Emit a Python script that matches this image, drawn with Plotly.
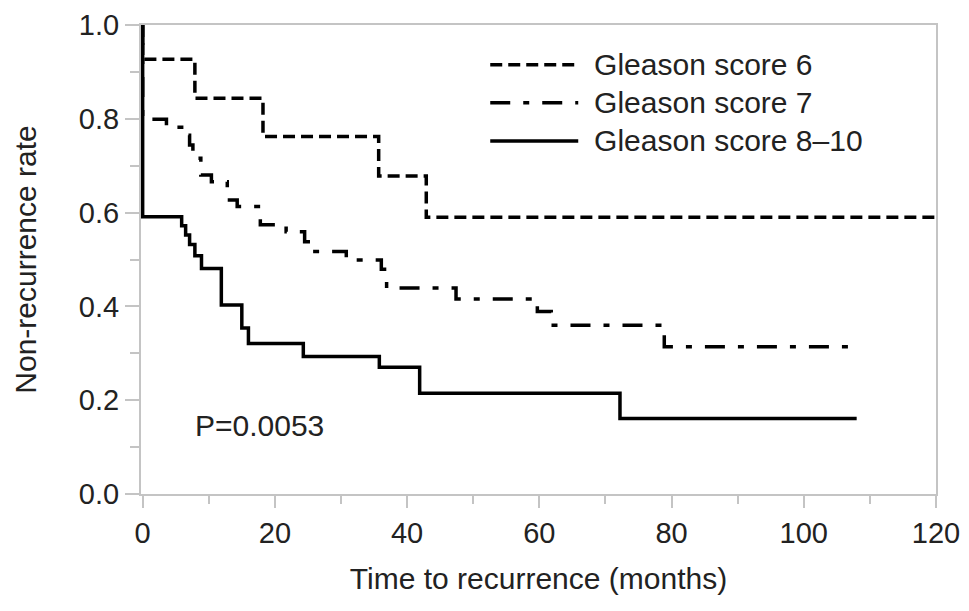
import plotly.graph_objects as go

# ---- data ----
g6_time = [0, 0, 7.9, 18.2, 35.7, 42.9, 120]
g6_rate = [1.0, 0.927, 0.844, 0.762, 0.678, 0.590, 0.590]

g7_time = [0, 0, 3.6, 5.9, 7.1, 7.6, 8.8, 10.4, 12.8, 14.3, 17.8, 21.7, 24.5,
           25.5, 30.8, 36.1, 36.9, 47.4, 59.7, 61.8, 78.9, 108]
g7_rate = [1.0, 0.799, 0.782, 0.765, 0.744, 0.716, 0.680, 0.666, 0.627, 0.613,
           0.574, 0.559, 0.538, 0.517, 0.499, 0.479, 0.439, 0.416, 0.389, 0.360,
           0.314, 0.314]

g810_time = [0, 0, 5.9, 6.5, 7.1, 7.9, 8.9, 11.9, 15.0, 16.0, 24.3, 35.8, 41.9, 72.2, 108]
g810_rate = [1.0, 0.591, 0.572, 0.552, 0.532, 0.508, 0.481, 0.403, 0.354, 0.321,
             0.293, 0.270, 0.215, 0.161, 0.161]

series_names = ["Gleason score 6", "Gleason score 7", "Gleason score 8\u201310"]
x_ticks = [0, 20, 40, 60, 80, 100, 120]
y_ticks = [0.0, 0.2, 0.4, 0.6, 0.8, 1.0]
p_text = "P=0.0053"

FONT = "Liberation Sans, Arial, Helvetica, sans-serif"
TXT = "#222222"
AX = "#c4c4c4"

fig = go.Figure()
dashes = ["12px,6px", "20px,13px,6px,13px", "solid"]
data = [(g6_time, g6_rate), (g7_time, g7_rate), (g810_time, g810_rate)]
for i, ((t, s), name, d) in enumerate(zip(data, series_names, dashes)):
    fig.add_trace(go.Scatter(
        x=t, y=s, mode="lines",
        name='<span style="font-size:30px">\u00a0\u200a' + name + "</span>",
        legendgroup=f"g{i}",
        line=dict(color="black", width=3.5, shape="hv", dash=d),
        hoverinfo="skip",
    ))

fig.add_annotation(x=7.6, y=0.147, xref="x", yref="y", text=p_text,
                   showarrow=False, xanchor="left", yanchor="middle",
                   font=dict(family=FONT, size=30, color=TXT))

fig.update_layout(
    width=969, height=611,
    margin=dict(l=133, r=41, t=17, b=125),
    paper_bgcolor="white", plot_bgcolor="white",
    font=dict(family=FONT, size=29, color=TXT),
    showlegend=True,
    legend=dict(x=0.433, y=0.9665, xanchor="left", yanchor="top",
                bgcolor="rgba(0,0,0,0)", font=dict(family=FONT, size=27, color=TXT),
                itemwidth=88, tracegroupgap=0, traceorder="normal"),
)
fig.update_xaxes(
    range=[-0.25, 120], tickvals=x_ticks, ticktext=[str(v) for v in x_ticks],
    showgrid=False, zeroline=False, showline=True, linecolor=AX, linewidth=2,
    mirror=True, ticks="outside", ticklen=12, tickwidth=2, tickcolor=AX,
    minor=dict(tickvals=[10, 30, 50, 70, 90, 110], ticks="outside", ticklen=8,
               tickwidth=2, tickcolor=AX, showgrid=False),
    title=dict(text="Time to recurrence (months)", standoff=20,
               font=dict(family=FONT, size=30, color=TXT)),
    tickfont=dict(family=FONT, size=29, color=TXT), ticklabelstandoff=0,
    layer="below traces", automargin=False,
)
fig.update_yaxes(
    range=[0, 1.0], tickvals=y_ticks, ticktext=[f"{v:.1f}" for v in y_ticks],
    showgrid=False, zeroline=False, showline=True, linecolor=AX, linewidth=2,
    mirror=True, ticks="outside", ticklen=14, tickwidth=2, tickcolor=AX,
    minor=dict(tickvals=[0.1, 0.3, 0.5, 0.7, 0.9], ticks="outside", ticklen=9,
               tickwidth=2, tickcolor=AX, showgrid=False),
    title=dict(text="Non-recurrence rate", standoff=33,
               font=dict(family=FONT, size=30, color=TXT)),
    tickfont=dict(family=FONT, size=29, color=TXT), ticklabelstandoff=0,
    layer="below traces", automargin=False,
)

fig.write_html("out.html")
